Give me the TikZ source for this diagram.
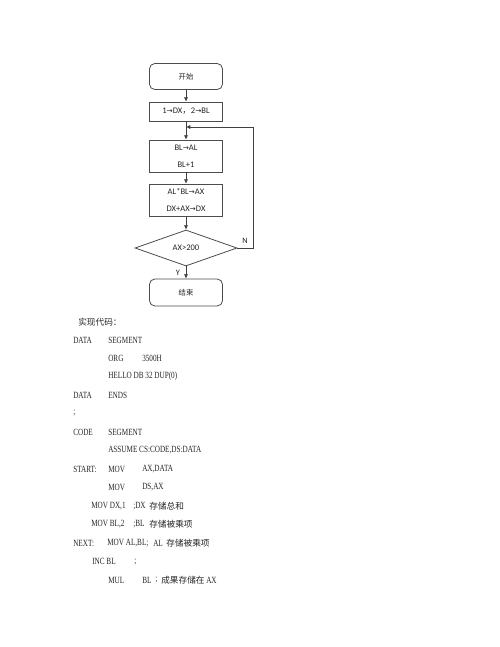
\documentclass[tikz,border=0pt]{standalone}
\usepackage{fontspec}
\setmainfont{Carlito}
\newfontfamily\cjk{Noto Sans CJK SC}
\newfontfamily\symfont{DejaVu Sans}
\newfontfamily\codefont[FakeStretch=0.76]{Liberation Serif}
\usetikzlibrary{arrows.meta,shapes.geometric}
\newcommand\myra{{\symfont\fontsize{5.5}{5.5}\selectfont\char"2192}}
\begin{document}
\begin{tikzpicture}[x=0.75pt,y=-0.75pt,
  fc/.style={draw=black!70, line width=0.6pt, minimum width=54.75pt, inner sep=0pt,
    font=\fontsize{6.4}{12.75}\selectfont, align=center, text=black!85},
  rbox/.style={fc, rounded corners=4pt},
  dia/.style={draw=black!70, line width=0.6pt, diamond, inner sep=0pt, minimum width=76.5pt,
    minimum height=27pt, font=\fontsize{6.4}{7}\selectfont, text=black!85},
  arr/.style={draw=black!75, line width=0.6pt, -{Latex[length=3.2pt,width=3.2pt]}},
  lbl/.style={font=\fontsize{6.2}{7}\selectfont, inner sep=0pt, text=black!85},
  code/.style={anchor=west, inner sep=0pt, font=\codefont\fontsize{7.1}{8}\selectfont, text=black!85},
  ccode/.style={anchor=west, inner sep=0pt, font=\cjk\fontsize{6.5}{8}\selectfont, text=black!85}]
\useasboundingbox (0,0) rectangle (500,647);
\fill[white] (0,0) rectangle (500,647);

% flowchart
\node[rbox, minimum height=19.5pt] (start) at (186,76.5) {\cjk\fontsize{5.5}{6}\selectfont 开始};
\node[fc, minimum height=14.25pt] (b2) at (186,111.5) {1\myra DX{\cjk ，}2\myra BL};
\node[fc, minimum height=24pt] (b3) at (186,156) {BL\myra AL\\BL+1};
\node[fc, minimum height=24pt] (b4) at (186,200) {AL*BL\myra AX\\DX+AX\myra DX};
\node[dia] (d) at (186,248) {AX>200};
\node[rbox, minimum height=20.25pt] (end) at (186,292.5) {\cjk\fontsize{5.5}{6}\selectfont 结束};
\coordinate (j) at (186,127);
\coordinate (r) at (253,127);

\draw[arr] (start) -- (b2);
\draw[arr] (b2) -- (b3);
\draw[arr] (b3) -- (b4);
\draw[arr] (b4) -- (d);
\draw[arr] (d) -- (end);
\draw[arr] (d.east) -| (r) -- (j);
\node[lbl] (n) at (245,241) {N};
\node[lbl] (y) at (178,273) {Y};

% code listing
\node[ccode] (h) at (78,322) {实现代码：};
\node[code] (l1a) at (73,340) {DATA};
\node[code] (l1b) at (108,340) {SEGMENT};
\node[code] (l2a) at (108,358) {ORG};
\node[code] (l2b) at (142,358) {3500H};
\node[code] (l3a) at (108,376.5) {HELLO DB 32 DUP(0)};
\node[code] (l4a) at (73,395) {DATA};
\node[code] (l4b) at (108,395) {ENDS};
\node[code] (l5a) at (73,413) {;};
\node[code] (l6a) at (73,432) {CODE};
\node[code] (l6b) at (108,432) {SEGMENT};
\node[code] (l7a) at (108,450.5) {ASSUME CS:CODE,DS:DATA};
\node[code] (l8a) at (73,469) {START:};
\node[code] (l8b) at (108,469) {MOV};
\node[code] (l8c) at (142,469) {AX,DATA};
\node[code] (l9a) at (108,487.5) {MOV};
\node[code] (l9b) at (142,487.5) {DS,AX};
\node[code] (l10a) at (91,506) {MOV DX,1};
\node[code] (l10b) at (133,506) {;DX};
\node[ccode] (l10c) at (149,506) {存储总和};
\node[code] (l11a) at (91,524.5) {MOV BL,2};
\node[code] (l11b) at (133,524.5) {;BL};
\node[ccode] (l11c) at (149,524.5) {存储被乘项};
\node[code] (l12a) at (73,543) {NEXT:};
\node[code] (l12b) at (107,543) {MOV AL,BL;};
\node[code] (l12c) at (153,543) {AL};
\node[ccode] (l12d) at (166,543) {存储被乘项};
\node[code] (l13a) at (92,561.5) {INC BL};
\node[code] (l13b) at (134,561.5) {;};
\node[code] (l14a) at (108,580) {MUL};
\node[code] (l14b) at (142,580) {BL};
\node[code] (l14c) at (155,580) {;};
\node[ccode] (l14d) at (161,580) {成果存储在};
\node[code] (l14e) at (206,580) {AX};
\end{tikzpicture}
\end{document}
